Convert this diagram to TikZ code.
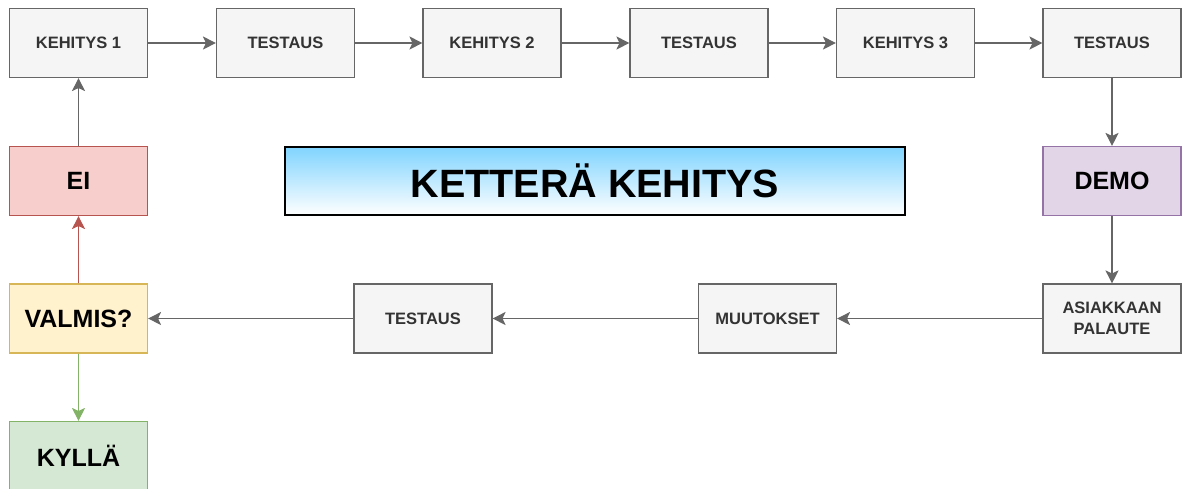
\documentclass[tikz,border=0pt]{standalone}
\usepackage{fontspec}
\setmainfont{Liberation Sans}
\usetikzlibrary{arrows.meta}

\definecolor{boxfill}{HTML}{F5F5F5}
\definecolor{boxline}{HTML}{666666}
\definecolor{boxtext}{HTML}{333333}
\definecolor{eifill}{HTML}{F8CECC}
\definecolor{eiline}{HTML}{B85450}
\definecolor{valfill}{HTML}{FFF2CC}
\definecolor{valline}{HTML}{D6B656}
\definecolor{okfill}{HTML}{D5E8D4}
\definecolor{okline}{HTML}{82B366}
\definecolor{demofill}{HTML}{E1D5E7}
\definecolor{demoline}{HTML}{9673A6}
\definecolor{sky}{RGB}{128,212,255}

\tikzset{
  box/.style={draw=boxline, fill=boxfill, text=boxtext, line width=1.1pt,
    minimum width=138pt, minimum height=69pt, inner sep=0pt, align=center,
    font=\fontsize{16.5}{21}\selectfont\bfseries},
  bigbox/.style={box, text=black, font=\fontsize{25}{28}\selectfont\bfseries},
  flow/.style={draw=boxline, line width=1.3pt, -{Stealth[length=13pt,width=13pt,inset=3pt]}}
}

\begin{document}
\begin{tikzpicture}[x=1pt, y=-1pt]
  \useasboundingbox (0,0) rectangle (1187,488);

  % top row
  \node[box] (k1) at (78.5,43) {KEHITYS 1};
  \node[box] (t1) at (285.5,43) {TESTAUS};
  \node[box] (k2) at (492,43) {KEHITYS 2};
  \node[box] (t2) at (699,43) {TESTAUS};
  \node[box] (k3) at (905.5,43) {KEHITYS 3};
  \node[box] (t3) at (1112,43) {TESTAUS};

  % middle
  \node[bigbox, fill=eifill, draw=eiline] (ei) at (78.5,181) {EI};
  \node[draw=black, line width=1.2pt, top color=sky, bottom color=white,
    minimum width=620pt, minimum height=68pt,
    font=\fontsize{39.5}{42}\selectfont\bfseries] (title) at (595,181) {KETTERÄ KEHITYS};
  \node[bigbox, fill=demofill, draw=demoline] (demo) at (1112,181) {DEMO};

  % bottom row
  \node[bigbox, fill=valfill, draw=valline] (valmis) at (78.5,318.5) {VALMIS?};
  \node[box] (t4) at (423,318.5) {TESTAUS};
  \node[box] (muut) at (767.5,318.5) {MUUTOKSET};
  \node[box] (pal) at (1112,318.5) {ASIAKKAAN\\PALAUTE};
  \node[bigbox, fill=okfill, draw=okline] (kylla) at (78.5,456) {KYLLÄ};

  \draw[flow] (k1) -- (t1);
  \draw[flow] (t1) -- (k2);
  \draw[flow] (k2) -- (t2);
  \draw[flow] (t2) -- (k3);
  \draw[flow] (k3) -- (t3);
  \draw[flow] (t3) -- (demo);
  \draw[flow] (demo) -- (pal);
  \draw[flow] (pal) -- (muut);
  \draw[flow] (muut) -- (t4);
  \draw[flow] (t4) -- (valmis);
  \draw[flow, draw=eiline, fill=eiline] (valmis) -- (ei);
  \draw[flow, draw=okline, fill=okline] (valmis) -- (kylla);
  \draw[flow] (ei) -- (k1);
\end{tikzpicture}
\end{document}
